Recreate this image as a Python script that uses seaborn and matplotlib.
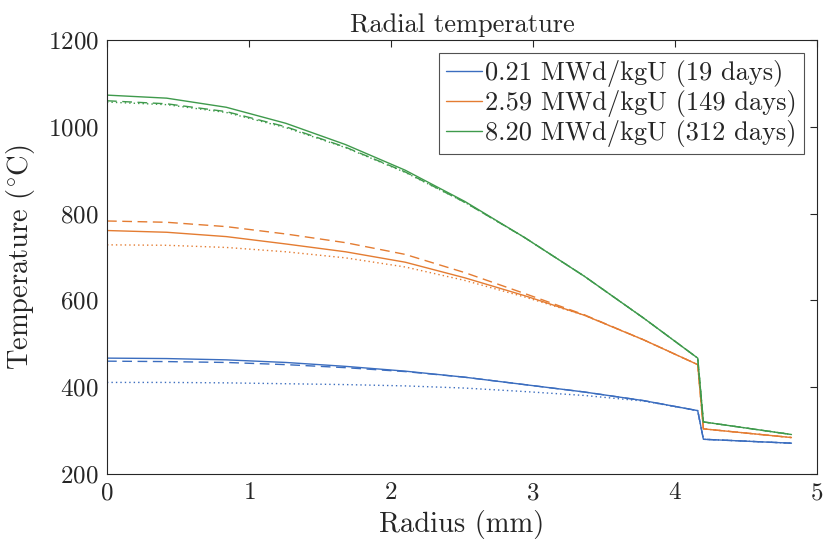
import numpy as np
import pandas as pd
import matplotlib
matplotlib.use("Agg")
import matplotlib.pyplot as plt
import seaborn as sns

# Rayon (mm) : noeuds combustible puis gaine
radius = [0.0, 0.42, 0.84, 1.26, 1.68, 2.10, 2.52, 2.94, 3.36, 3.78, 4.16, 4.20, 4.82]

# 0.21 MWd/kgU
blue_solid = [467, 466, 463, 457, 448, 437, 423, 406, 389, 369, 346, 280, 271]
blue_dash = [460, 459, 457, 452, 445, 436, 423, 406, 389, 369, 346, 280, 271]
blue_dot = [411, 411, 410, 408, 406, 403, 398, 390, 381, 368, 346, 280, 271]

# 2.59 MWd/kgU
orange_solid = [761, 757, 747, 730, 712, 688, 652, 611, 566, 509, 452, 304, 284]
orange_dash = [783, 780, 770, 753, 733, 706, 664, 616, 567, 509, 452, 304, 284]
orange_dot = [728, 727, 722, 712, 698, 677, 646, 608, 566, 509, 452, 304, 284]

# 8.20 MWd/kgU
green_solid = [1073, 1066, 1045, 1008, 959, 900, 828, 745, 656, 559, 467, 320, 291]
green_dash = [1060, 1053, 1035, 1000, 953, 896, 826, 745, 656, 559, 467, 320, 291]
green_dot = [1057, 1051, 1033, 998, 952, 895, 826, 745, 656, 559, 467, 320, 291]

labels = ["0.21 MWd/kgU (19 days)", "2.59 MWd/kgU (149 days)", "8.20 MWd/kgU (312 days)"]
colors = ["#3b6dbf", "#e47c32", "#3f9a4c"]

series = [
    (blue_solid, blue_dash, blue_dot),
    (orange_solid, orange_dash, orange_dot),
    (green_solid, green_dash, green_dot),
]

sns.set_theme(style="white")
plt.rcParams["font.family"] = ["cmr10", "DejaVu Serif"]
plt.rcParams["mathtext.fontset"] = "cm"
plt.rcParams["axes.formatter.use_mathtext"] = True
plt.rcParams["axes.unicode_minus"] = False

fig = plt.figure(figsize=(8.25, 5.47), dpi=100)
ax = fig.add_axes([107 / 825, 1 - 474 / 547, 710 / 825, 434 / 547])

text_col = "#262626"
handles = []
for (solid, dash, dot), col, lab in zip(series, colors, labels):
    df = pd.DataFrame({"r": radius, "solid": solid, "dash": dash, "dot": dot})
    sns.lineplot(data=df, x="r", y="dot", ax=ax, color=col, lw=1.0, sort=False,
                 linestyle=(0, (1, 2.2)))
    sns.lineplot(data=df, x="r", y="dash", ax=ax, color=col, lw=1.0, sort=False,
                 linestyle=(0, (7, 4)))
    sns.lineplot(data=df, x="r", y="solid", ax=ax, color=col, lw=1.0, sort=False)
    handles.append(ax.lines[-1])

ax.set_xlim(0, 5)
ax.set_ylim(200, 1200)
ax.set_xticks(range(0, 6))
ax.set_yticks(range(200, 1201, 200))
ax.set_xlabel("Radius (mm)", fontsize=20.5, color=text_col, labelpad=4)
ax.set_ylabel(r"Temperature ($^{\circ}$C)", fontsize=20.5, color=text_col, labelpad=8)
ax.set_title("Radial temperature", fontsize=19, color=text_col, pad=6)

ax.tick_params(direction="in", length=5, width=0.8, top=True, right=True,
               labelsize=18, colors=text_col, pad=6)
for s in ax.spines.values():
    s.set_color(text_col)
    s.set_linewidth(0.8)

leg = ax.legend(handles, labels, loc="upper right", fontsize=19, frameon=True,
                fancybox=False, handlelength=1.35, handletextpad=0.15,
                labelspacing=0.12, borderpad=0.25, borderaxespad=0.5)
leg.get_frame().set_edgecolor(text_col)
leg.get_frame().set_linewidth(0.8)
for t in leg.get_texts():
    t.set_color(text_col)

fig.savefig("out.png", dpi=100)
